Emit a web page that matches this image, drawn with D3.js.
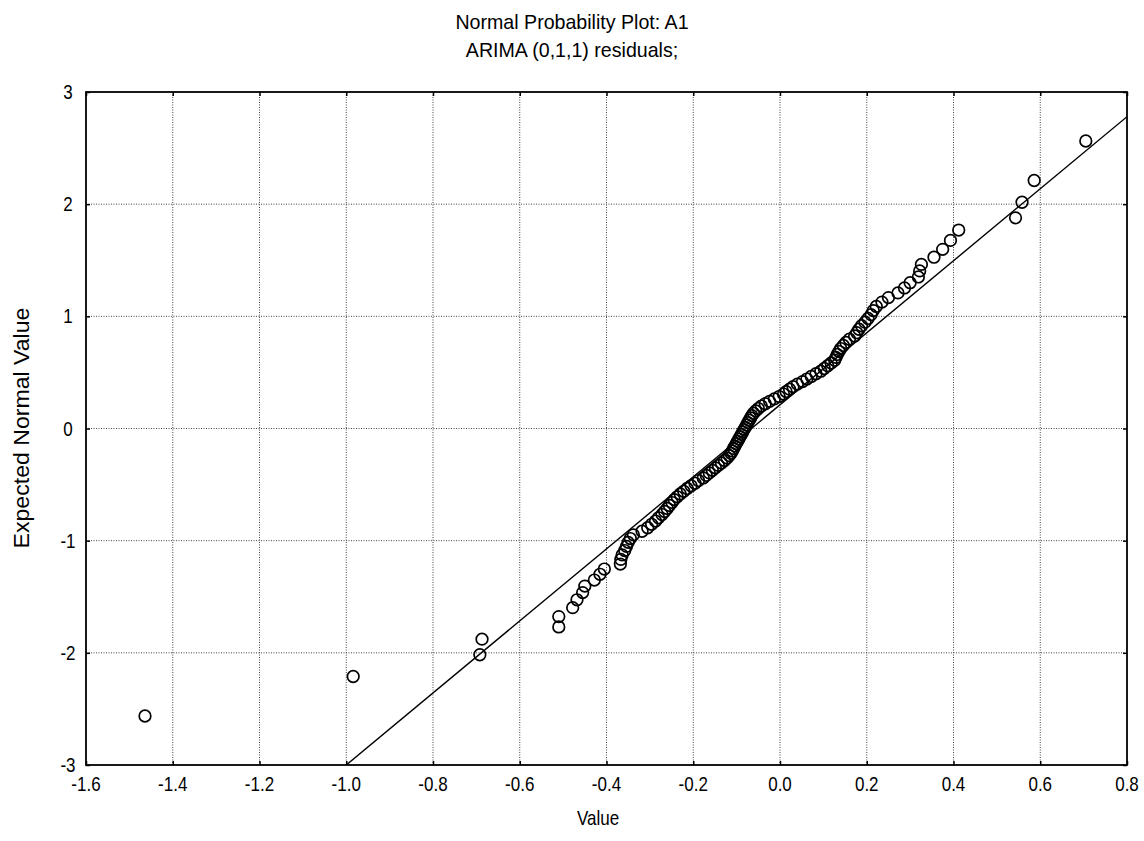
<!DOCTYPE html>
<html>
<head>
<meta charset="utf-8">
<script src="https://cdn.jsdelivr.net/npm/d3@7"></script>
<style>
  body { margin: 0; background: #fff; }
  svg text { font-family: "Liberation Sans", Arial, sans-serif; fill: #000; }
</style>
</head>
<body>
<svg id="chart" width="1144" height="841"></svg>
<script>
// residual values (x) and expected normal values (y)
const residuals = [
  -1.464, -0.984, -0.692, -0.687, -0.510, -0.510, -0.478, -0.468, -0.455, -0.450,
  -0.428, -0.415, -0.405, -0.368, -0.367, -0.364, -0.358, -0.354, -0.350, -0.345,
  -0.338, -0.318, -0.305, -0.296, -0.287, -0.280, -0.272, -0.266, -0.260, -0.255,
  -0.249, -0.244, -0.237, -0.230, -0.222, -0.214, -0.205, -0.196, -0.188, -0.177,
  -0.170, -0.163, -0.156, -0.149, -0.142, -0.135, -0.128, -0.122, -0.117, -0.113,
  -0.110, -0.107, -0.104, -0.101, -0.098, -0.095, -0.092, -0.089, -0.086, -0.083,
  -0.080, -0.077, -0.074, -0.071, -0.068, -0.065, -0.061, -0.056, -0.050, -0.043,
  -0.034, -0.024, -0.013, -0.002, 0.008, 0.014, 0.022, 0.030, 0.040, 0.052,
  0.062, 0.072, 0.083, 0.094, 0.102, 0.110, 0.118, 0.126, 0.129, 0.132,
  0.136, 0.140, 0.146, 0.152, 0.160, 0.172, 0.177, 0.182, 0.188, 0.196,
  0.203, 0.210, 0.215, 0.222, 0.235, 0.250, 0.272, 0.287, 0.300, 0.319,
  0.322, 0.326, 0.355, 0.375, 0.393, 0.412, 0.543, 0.558, 0.586, 0.705
];
const expected = [
  -2.563, -2.211, -2.017, -1.878, -1.769, -1.677, -1.597, -1.527, -1.463, -1.405,
  -1.351, -1.300, -1.253, -1.209, -1.167, -1.127, -1.088, -1.051, -1.015, -0.981,
  -0.948, -0.916, -0.885, -0.854, -0.825, -0.796, -0.767, -0.740, -0.713, -0.686,
  -0.660, -0.634, -0.609, -0.584, -0.560, -0.535, -0.511, -0.488, -0.464, -0.441,
  -0.418, -0.396, -0.373, -0.351, -0.329, -0.307, -0.285, -0.264, -0.242, -0.221,
  -0.200, -0.178, -0.157, -0.136, -0.115, -0.094, -0.073, -0.052, -0.031, -0.010,
  0.010, 0.031, 0.052, 0.073, 0.094, 0.115, 0.136, 0.157, 0.178, 0.200,
  0.221, 0.242, 0.264, 0.285, 0.307, 0.329, 0.351, 0.373, 0.396, 0.418,
  0.441, 0.464, 0.488, 0.511, 0.535, 0.560, 0.584, 0.609, 0.634, 0.660,
  0.686, 0.713, 0.740, 0.767, 0.796, 0.825, 0.854, 0.885, 0.916, 0.948,
  0.981, 1.015, 1.051, 1.088, 1.127, 1.167, 1.209, 1.253, 1.300, 1.351,
  1.405, 1.463, 1.527, 1.597, 1.677, 1.769, 1.878, 2.017, 2.211, 2.563
];

// reference line end points
const fitX = [-1.0, 0.8];
const fitY = [-3.0, 2.78];

const xTicks = [-1.6, -1.4, -1.2, -1.0, -0.8, -0.6, -0.4, -0.2, 0.0, 0.2, 0.4, 0.6, 0.8];
const yTicks = [-3, -2, -1, 0, 1, 2, 3];

const titleLines = ["Normal Probability Plot: A1", "ARIMA (0,1,1) residuals;"];
const xLabel = "Value";
const yLabel = "Expected Normal Value";

// text drawn narrower than the font, like the original's condensed face
function narrowText(parent, str, cx, cy, size, sx, rotate) {
    return parent.append('text')
        .attr('transform', `translate(${cx},${cy})` + (rotate ? ' rotate(-90)' : '') + ` scale(${sx},1)`)
        .attr('text-anchor', 'middle')
        .attr('dominant-baseline', 'central')
        .attr('font-size', size)
        .text(str);
}

function drawChart() {
    const svg = d3.select('#chart');
    const margin = {top: 92, right: 17, bottom: 76, left: 86};
    const width = +svg.attr('width') - margin.left - margin.right;
    const height = +svg.attr('height') - margin.top - margin.bottom;

    const chart = svg.append('g')
        .attr('transform', `translate(${margin.left},${margin.top})`);

    const x = d3.scaleLinear().domain([-1.6, 0.8]).range([0, width]);
    const y = d3.scaleLinear().domain([-3, 3]).range([height, 0]);

    // dotted grid
    chart.append('g')
        .selectAll('line')
        .data(xTicks.slice(1, -1))
        .enter().append('line')
            .attr('x1', d => x(d)).attr('x2', d => x(d))
            .attr('y1', 0).attr('y2', height)
            .attr('stroke', '#444')
            .attr('stroke-width', 1)
            .attr('stroke-dasharray', '1,1.5');
    chart.append('g')
        .selectAll('line')
        .data(yTicks.slice(1, -1))
        .enter().append('line')
            .attr('x1', 0).attr('x2', width)
            .attr('y1', d => y(d)).attr('y2', d => y(d))
            .attr('stroke', '#444')
            .attr('stroke-width', 1)
            .attr('stroke-dasharray', '1,1.5');

    // clip for the fitted line
    svg.append('clipPath').attr('id', 'plotClip')
        .append('rect').attr('width', width).attr('height', height);

    const line = d3.line().x(d => x(d[0])).y(d => y(d[1]));
    chart.append('path')
        .datum(d3.zip(fitX, fitY))
        .attr('clip-path', 'url(#plotClip)')
        .attr('d', line)
        .attr('fill', 'none')
        .attr('stroke', '#000')
        .attr('stroke-width', 1.4);

    // points
    chart.append('g')
        .selectAll('circle')
        .data(d3.zip(residuals, expected))
        .enter().append('circle')
            .attr('cx', d => x(d[0]))
            .attr('cy', d => y(d[1]))
            .attr('r', 5.8)
            .attr('fill', 'none')
            .attr('stroke', '#000')
            .attr('stroke-width', 1.7);

    // axes: inward ticks on all four sides, labels drawn separately
    const axes = [
        chart.append('g').attr('transform', `translate(0,${height})`)
            .call(d3.axisBottom(x).tickValues(xTicks).tickSize(-4).tickFormat('')),
        chart.append('g')
            .call(d3.axisTop(x).tickValues(xTicks).tickSize(-4).tickFormat('')),
        chart.append('g')
            .call(d3.axisLeft(y).tickValues(yTicks).tickSize(-4).tickFormat('')),
        chart.append('g').attr('transform', `translate(${width},0)`)
            .call(d3.axisRight(y).tickValues(yTicks).tickSize(-4).tickFormat(''))
    ];
    axes.forEach(a => {
        a.select('.domain').remove();
        a.selectAll('.tick line').attr('stroke', '#000').attr('stroke-width', 1.5);
    });

    const fmt = d3.format('.1f');
    xTicks.forEach(t => {
        narrowText(chart, fmt(t).replace('\u2212', '-'), x(t), height + 19, 20, 0.85, false);
    });
    yTicks.forEach(t => {
        narrowText(chart, String(t), -18, y(t), 20, 0.85, false);
    });

    // frame
    chart.append('rect')
        .attr('width', width).attr('height', height)
        .attr('fill', 'none')
        .attr('stroke', '#000')
        .attr('stroke-width', 1.8);

    // titles
    titleLines.forEach((t, i) => {
        narrowText(svg, t, 572, 22 + i * 28, 20, 0.98, false);
    });
    narrowText(svg, xLabel, 598, 818, 20, 0.85, false);
    narrowText(svg, yLabel, 22, 428, 22, 1.05, true);
}

window.addEventListener('DOMContentLoaded', () => {
    drawChart();
});
</script>
</body>
</html>
